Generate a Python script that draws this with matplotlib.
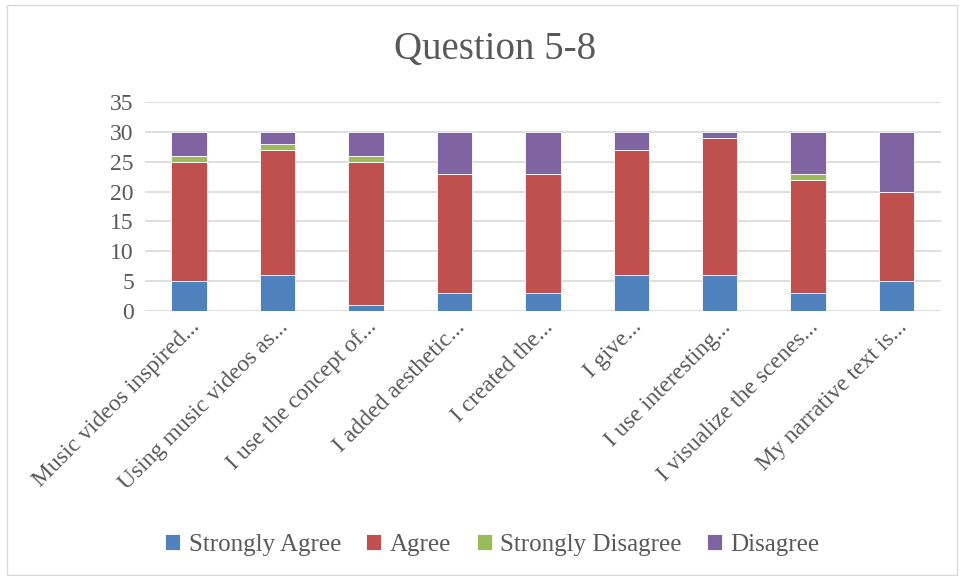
import numpy as np
import matplotlib.pyplot as plt
from matplotlib.patches import Rectangle

plt.rcParams['font.family'] = ['Liberation Serif', 'DejaVu Serif']

categories = ["Music videos inspired...", "Using music videos as...", "I use the concept of...",
              "I added aesthetic...", "I created the...", "I give...", "I use interesting...",
              "I visualize the scenes...", "My narrative text is..."]
strongly_agree = [5, 6, 1, 3, 3, 6, 6, 3, 5]
agree = [20, 21, 24, 20, 20, 21, 23, 19, 15]
strongly_disagree = [1, 1, 1, 0, 0, 0, 0, 1, 0]
disagree = [4, 2, 4, 7, 7, 3, 1, 7, 10]

series = [("Strongly Agree", strongly_agree, "#4F81BD"),
          ("Agree", agree, "#C0504D"),
          ("Strongly Disagree", strongly_disagree, "#9BBB59"),
          ("Disagree", disagree, "#8064A2")]

txt = "#595959"
fig = plt.figure(figsize=(9.6, 5.76), dpi=100)
fig.patches.append(Rectangle((0.007, 0.002), 0.99, 0.99, transform=fig.transFigure,
                             fill=False, edgecolor="#D9D9D9", linewidth=1))
ax = fig.add_axes([0.151, 0.460, 0.829, 0.363])

x = np.arange(len(categories))
bottom = np.zeros(len(categories))
for name, vals, col in series:
    ax.bar(x, vals, 0.4, bottom=bottom, color=col, label=name,
           edgecolor="white", linewidth=0.6, zorder=3)
    bottom += np.array(vals)

ax.set_ylim(0, 35)
ax.set_xlim(-0.5, len(categories) - 0.5)
ax.set_yticks(range(0, 36, 5))
ax.yaxis.grid(True, color="#D9D9D9", linewidth=1.2, zorder=0)
for s in ax.spines.values():
    s.set_visible(False)
ax.tick_params(length=0, labelcolor=txt, labelsize=17)
ax.tick_params(axis='y', pad=8)
ax.tick_params(axis='x', pad=4)
ax.set_xticks(x)
ax.set_xticklabels(categories, rotation=45, ha="right", rotation_mode="anchor", fontsize=17)

fig.text(0.516, 0.914, "Question 5-8", ha="center", va="center", fontsize=28, color=txt)
fig.legend(loc="center", bbox_to_anchor=(0.513, 0.054), ncol=4, frameon=False,
           fontsize=18, labelcolor=txt, handlelength=0.6, handleheight=0.6,
           handletextpad=0.35, columnspacing=1.0)

fig.savefig("out.png", dpi=100)
